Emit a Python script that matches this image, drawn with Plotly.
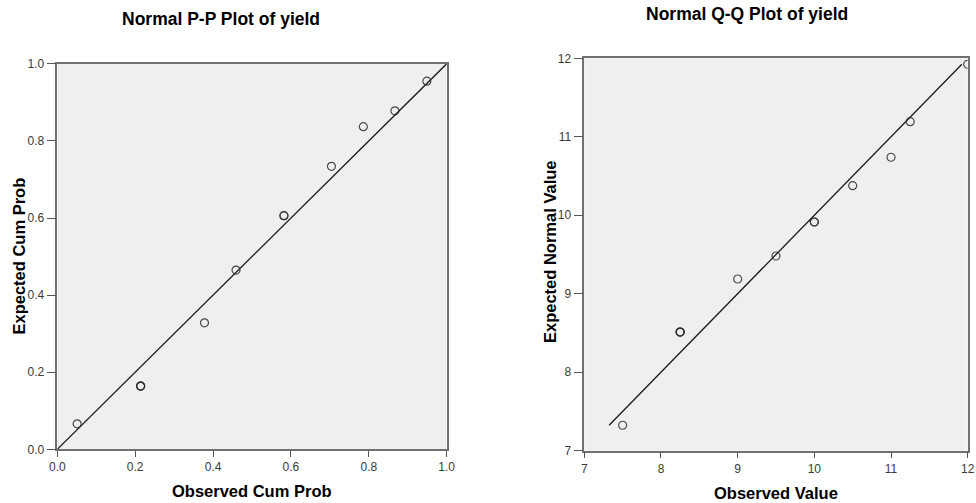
import plotly.graph_objects as go

# ---- data ----
pp_observed = [0.051, 0.214, 0.378, 0.459, 0.582, 0.704, 0.786, 0.867, 0.949]
pp_expected = [0.066, 0.164, 0.328, 0.465, 0.606, 0.734, 0.837, 0.878, 0.955]
qq_observed = [7.5, 8.25, 9.0, 9.5, 10.0, 10.5, 11.0, 11.25, 12.0]
qq_expected = [7.324, 8.512, 9.188, 9.481, 9.914, 10.377, 10.739, 11.192, 11.924]
point_counts = [1, 3, 1, 1, 2, 1, 1, 1, 1]

pp_ticks = [0.0, 0.2, 0.4, 0.6, 0.8, 1.0]
pp_ticklabels = ["0.0", "0.2", "0.4", "0.6", "0.8", "1.0"]
qq_ticks = [7, 8, 9, 10, 11, 12]
qq_ticklabels = ["7", "8", "9", "10", "11", "12"]

titles = ["Normal P-P Plot of yield", "Normal Q-Q Plot of yield"]
x_titles = ["Observed Cum Prob", "Observed Value"]
y_titles = ["Expected Cum Prob", "Expected Normal Value"]

W, H = 976, 503
FONT = "Liberation Sans, Arial, sans-serif"


def expand(vals, counts):
    out = []
    for v, c in zip(vals, counts):
        out.extend([v] * c)
    return out


def px(x):
    return x / W


def py(y):
    return 1 - y / H


fig = go.Figure()

marker = dict(symbol="circle-open", size=8, color="rgba(45,45,45,0.85)",
              line=dict(width=1.2))
linestyle = dict(color="#1a1a1a", width=1.3)

# P-P
fig.add_trace(go.Scatter(x=[pp_ticks[0], pp_ticks[-1]], y=[pp_ticks[0], pp_ticks[-1]],
                         mode="lines", line=linestyle, xaxis="x", yaxis="y",
                         hoverinfo="skip"))
fig.add_trace(go.Scatter(x=expand(pp_observed, point_counts),
                         y=expand(pp_expected, point_counts),
                         mode="markers", marker=marker, xaxis="x", yaxis="y"))

# Q-Q
lo, hi = min(qq_expected), max(qq_expected)
fig.add_trace(go.Scatter(x=[lo, hi], y=[lo, hi], mode="lines", line=linestyle,
                         xaxis="x2", yaxis="y2", hoverinfo="skip"))
fig.add_trace(go.Scatter(x=expand(qq_observed, point_counts),
                         y=expand(qq_expected, point_counts),
                         mode="markers", marker=marker, xaxis="x2", yaxis="y2"))

axis_common = dict(showgrid=False, zeroline=False, showline=True, mirror=True,
                   linecolor="#707070", linewidth=1.5, ticks="outside",
                   tickcolor="#555555", tickwidth=1.2, automargin=False,
                   tickfont=dict(family=FONT, size=12, color="#3a3a3a"),
                   fixedrange=True)

fig.update_layout(
    template="none",
    width=W, height=H,
    margin=dict(l=0, r=0, t=0, b=0),
    paper_bgcolor="white",
    plot_bgcolor="#efefef",
    showlegend=False,
    xaxis=dict(domain=[px(57.3), px(446.7)], range=[0, 1], tickvals=pp_ticks,
               ticktext=pp_ticklabels, ticklen=6, anchor="y", **axis_common),
    yaxis=dict(domain=[py(449.3), py(63.8)], range=[0, 1], tickvals=pp_ticks,
               ticktext=pp_ticklabels, ticklen=9, anchor="x", **axis_common),
    xaxis2=dict(domain=[px(584.3), px(967.7)], range=[7, 12], tickvals=qq_ticks,
                ticktext=qq_ticklabels, ticklen=6, anchor="y2", **axis_common),
    yaxis2=dict(domain=[py(450.7), py(58.3)], range=[7, 12], tickvals=qq_ticks,
                ticktext=qq_ticklabels, ticklen=9, anchor="x2", **axis_common),
)

ann = []
title_font = dict(family=FONT, size=17.5, color="black")
axis_font = dict(family=FONT, size=16.5, color="black")
ann.append(dict(text="<b>%s</b>" % titles[0], x=px(221), y=py(19), font=title_font))
ann.append(dict(text="<b>%s</b>" % titles[1], x=px(747), y=py(14), font=title_font))
ann.append(dict(text="<b>%s</b>" % x_titles[0], x=px(252), y=py(491), font=axis_font))
ann.append(dict(text="<b>%s</b>" % x_titles[1], x=px(776), y=py(493), font=axis_font))
ann.append(dict(text="<b>%s</b>" % y_titles[0], x=px(18.5), y=py(256), font=axis_font,
                textangle=-90))
ann.append(dict(text="<b>%s</b>" % y_titles[1], x=px(550), y=py(252), font=axis_font,
                textangle=-90))
for a in ann:
    a.update(xref="paper", yref="paper", xanchor="center", yanchor="middle",
             showarrow=False)
fig.update_layout(annotations=ann)

fig.write_html("out.html",
               config={"displayModeBar": False},
               post_script="document.body.style.margin='0px';"
                           "document.body.style.overflow='hidden';")
